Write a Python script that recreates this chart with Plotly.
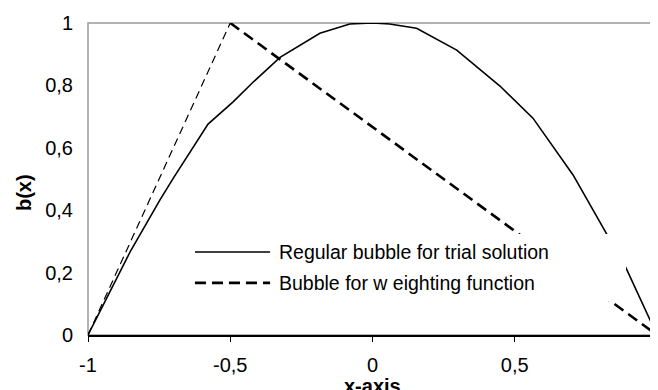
import plotly.graph_objects as go

# regular bubble for trial solution
x_trial = [-1.0, -0.85, -0.747, -0.7, -0.578, -0.49, -0.42, -0.325, -0.185, -0.08,
           0.0, 0.06, 0.155, 0.296, 0.448, 0.564, 0.705, 0.83, 0.891, 1.0]
y_trial = [0.0, 0.27, 0.433, 0.503, 0.676, 0.747, 0.81, 0.89, 0.967, 0.997,
           1.0, 0.997, 0.983, 0.913, 0.798, 0.695, 0.513, 0.315, 0.215, 0.0]

# bubble for weighting function: rising part (thin) and falling part (thick)
x_weight_up = [-1.0, -0.5]
y_weight_up = [0.0, 1.0]
x_weight_down = [-0.5, 0.0, 0.5, 1.0]
y_weight_down = [1.0, 0.667, 0.333, 0.0]

x_ticks = [-1, -0.5, 0, 0.5, 1]
x_ticktext = ["-1", "-0,5", "0", "0,5", "1"]
y_ticks = [0, 0.2, 0.4, 0.6, 0.8, 1]
y_ticktext = ["0", "0,2", "0,4", "0,6", "0,8", "1"]

legend_names = ["Regular bubble for trial solution", "Bubble for w eighting function"]

FONT = "Liberation Sans, Arial, sans-serif"

fig = go.Figure()
fig.add_trace(go.Scatter(x=x_weight_up, y=y_weight_up, mode="lines",
                         line=dict(color="black", width=1.2, dash="8px,5px"),
                         showlegend=False))
fig.add_trace(go.Scatter(x=x_weight_down, y=y_weight_down, mode="lines",
                         line=dict(color="black", width=2.6, dash="11px,6px"),
                         name=legend_names[1], showlegend=False))
fig.add_trace(go.Scatter(x=x_trial, y=y_trial, mode="lines",
                         line=dict(color="black", width=1.6),
                         name=legend_names[0], showlegend=False))

# legend box drawn by hand (white box hides the lines behind it)
fig.add_shape(type="rect", xref="x", yref="y", x0=-0.648, x1=0.891, y0=0.109, y1=0.324,
              line=dict(width=0), fillcolor="white", layer="above")
fig.add_shape(type="line", xref="x", yref="y", x0=-0.624, x1=-0.36, y0=0.266, y1=0.266,
              line=dict(color="black", width=1.6), layer="above")
fig.add_shape(type="line", xref="x", yref="y", x0=-0.624, x1=-0.36, y0=0.167, y1=0.167,
              line=dict(color="black", width=2.6, dash="11px,6px"), layer="above")
for yy, name in zip([0.266, 0.167], legend_names):
    fig.add_annotation(x=-0.337, y=yy, xref="x", yref="y", text=name, showarrow=False,
                       xanchor="left", yanchor="middle",
                       font=dict(family=FONT, size=19.5, color="black"))

# plot area border (gray)
fig.add_shape(type="rect", xref="paper", yref="paper", x0=0, x1=1, y0=0, y1=1,
              line=dict(color="#999999", width=1.5), layer="below")

# axis titles
fig.add_annotation(x=0.5, y=-0.163, xref="paper", yref="paper", text="<b>x-axis</b>",
                   showarrow=False, xanchor="center", yanchor="middle",
                   font=dict(family=FONT, size=20, color="black"))
fig.add_annotation(x=-0.1125, y=0.458, xref="paper", yref="paper", text="<b>b(x)</b>",
                   showarrow=False, textangle=-90, xanchor="center", yanchor="middle",
                   font=dict(family=FONT, size=20, color="black"))

# page body has an 8px margin, so the figure is 8px smaller than the window
fig.update_layout(
    width=650, height=382,
    margin=dict(l=80, r=1, t=15, b=55),
    plot_bgcolor="white", paper_bgcolor="white",
    font=dict(family=FONT, size=20, color="black"),
    showlegend=False,
)
fig.update_xaxes(range=[-1, 1], tickvals=x_ticks, ticktext=x_ticktext,
                 showline=True, linecolor="black", linewidth=1.5,
                 ticks="outside", ticklen=5, tickcolor="black", tickwidth=1.2,
                 ticklabelstandoff=6, ticklabeloverflow="allow",
                 automargin=False, showgrid=False, zeroline=False)
fig.update_yaxes(range=[0, 1], tickvals=y_ticks, ticktext=y_ticktext,
                 showline=False, ticks="", ticklabelstandoff=14,
                 automargin=False, showgrid=False, zeroline=False)

fig.write_html("out.html")
